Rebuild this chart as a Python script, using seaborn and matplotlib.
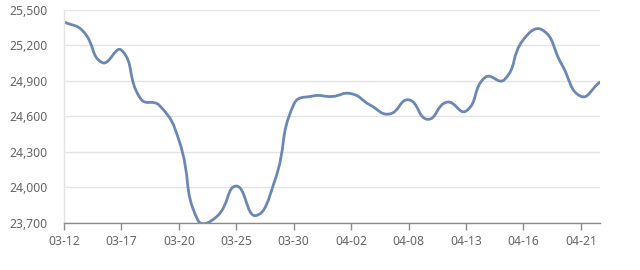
import numpy as np
import pandas as pd
import matplotlib
matplotlib.use("Agg")
import matplotlib.pyplot as plt
from matplotlib.path import Path
from matplotlib.patches import PathPatch
import seaborn as sns

dates = ["03-12", "03-13", "03-16", "03-17", "03-18", "03-19", "03-20", "03-23",
         "03-24", "03-25", "03-26", "03-27", "03-30", "03-31", "04-01", "04-02",
         "04-03", "04-07", "04-08", "04-09", "04-10", "04-13", "04-14", "04-15",
         "04-16", "04-17", "04-20", "04-21", "04-22"]
prices = [25400, 25320, 25055, 25160, 24750, 24690, 24400, 23720,
          23755, 24010, 23760, 24050, 24700, 24772, 24768, 24792,
          24695, 24620, 24740, 24575, 24720, 24645, 24930, 24910,
          25250, 25330, 25040, 24770, 24890]
yticks = [23700, 24000, 24300, 24600, 24900, 25200, 25500]

df = pd.DataFrame({"date": dates, "price": prices})
df["idx"] = np.arange(len(df))

sns.set_theme(style="white")
plt.rcParams["font.family"] = ["Noto Sans", "DejaVu Sans"]

fig = plt.figure(figsize=(6.4, 2.7), dpi=100)
ax = fig.add_axes([64 / 640, 1 - 222.7 / 270, (600 - 64) / 640, (222.7 - 10) / 270])

ax = sns.lineplot(data=df, x="idx", y="price", ax=ax, color="#6b87b5", linewidth=2)
line = ax.lines[0]
line.set_visible(False)

# smooth curve (ECharts-like bezier smoothing) through the data points
x = df["idx"].to_numpy(float)
y = df["price"].to_numpy(float)
sx, sy = 19.14, 35.45 / 300.0
px, py = x * sx, y * sy
n = len(px)
smooth = 0.5
cps_in, cps_out = [], []
for i in range(n):
    p1 = np.array([px[i], py[i]])
    p0 = np.array([px[max(i - 1, 0)], py[max(i - 1, 0)]])
    p2 = np.array([px[min(i + 1, n - 1)], py[min(i + 1, n - 1)]])
    v = p2 - p0
    d0 = np.hypot(*(p1 - p0))
    d1 = np.hypot(*(p2 - p1))
    tot = d0 + d1
    if tot == 0:
        cps_in.append(p1); cps_out.append(p1); continue
    cps_in.append(p1 - v * smooth * d0 / tot)
    cps_out.append(p1 + v * smooth * d1 / tot)
verts = [(px[0], py[0])]
codes = [Path.MOVETO]
for i in range(n - 1):
    verts += [tuple(cps_out[i]), tuple(cps_in[i + 1]), (px[i + 1], py[i + 1])]
    codes += [Path.CURVE4] * 3
verts = [(vx / sx, vy / sy) for vx, vy in verts]
patch = PathPatch(Path(verts, codes), facecolor="none", edgecolor="#6b87b5",
                  linewidth=2, capstyle="round", joinstyle="round")
ax.add_patch(patch)

ax.set_xlim(0, n - 1)
ax.set_ylim(23700, 25500)
ax.set_yticks(yticks)
ax.set_yticklabels([f"{t:,}" for t in yticks])
ax.set_xticks(df["idx"][::3])
ax.set_xticklabels(df["date"][::3])
ax.set_xlabel("")
ax.set_ylabel("")

ax.grid(axis="y", color="#e3e3e3", linewidth=1)
ax.grid(axis="x", visible=False)
for s in ["top", "right"]:
    ax.spines[s].set_visible(False)
ax.spines["left"].set_color("#e3e3e3")
ax.spines["left"].set_linewidth(1)
ax.spines["bottom"].set_color("#8a8a8a")
ax.spines["bottom"].set_linewidth(1)
ax.tick_params(axis="x", bottom=True, length=5, width=1, color="#8a8a8a",
               labelsize=8.8, labelcolor="#666666", pad=4)
ax.tick_params(axis="y", left=False, labelsize=8.8, labelcolor="#666666", pad=6)

fig.savefig("out.png", dpi=100, facecolor="white")
